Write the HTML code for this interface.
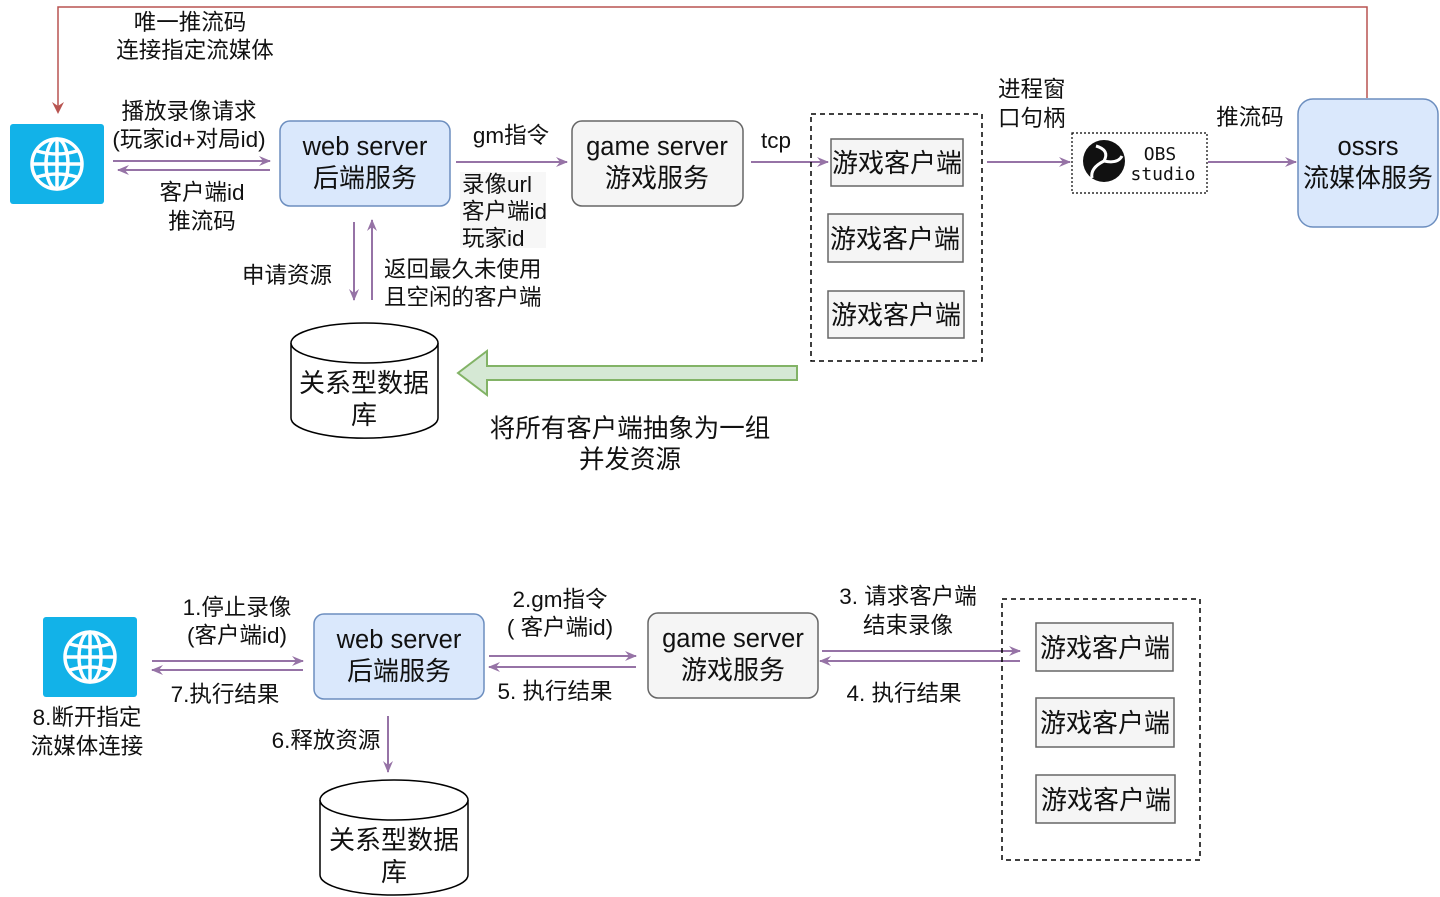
<!DOCTYPE html>
<html><head><meta charset="utf-8"><style>
html,body{margin:0;padding:0;background:#fff;}
svg{display:block;}
text{font-family:"Liberation Sans","Noto Sans CJK SC",sans-serif;fill:#111;}
text.mono{font-family:"DejaVu Sans Mono","Liberation Mono",monospace;}
</style></head><body>
<svg width="1440" height="897" viewBox="0 0 1440 897" xmlns="http://www.w3.org/2000/svg">
<defs>
<marker id="pa" markerWidth="12" markerHeight="10" refX="11" refY="5" orient="auto" markerUnits="userSpaceOnUse">
<path d="M0,0 L12,5 L0,10 L4,5 Z" fill="#9673a6"/></marker>
<g id="globe">
<rect x="0" y="0" width="94" height="80" rx="3" fill="#12b2e8"/>
<g fill="none" stroke="#fff" stroke-width="3.5">
<circle cx="47" cy="40" r="25"/>
<ellipse cx="47" cy="40" rx="11" ry="25"/>
<line x1="47" y1="15" x2="47" y2="65"/>
<line x1="22" y1="40" x2="72" y2="40"/>
<path d="M27,27 Q47,33 67,27"/>
<path d="M27,53 Q47,47 67,53"/>
</g>
</g>
</defs>

<polyline points="1367,98 1367,7 58,7 58,112" fill="none" stroke="#b85450" stroke-width="1.5"/>
<path d="M52,102 L58,114 L64,102 L58,106 Z" fill="#b85450"/>
<text x="190" y="30" font-size="22.5" text-anchor="middle">唯一推流码</text>
<text x="195" y="58" font-size="22.5" text-anchor="middle">连接指定流媒体</text>

<use href="#globe" x="10" y="124"/>
<line x1="113" y1="161" x2="270" y2="161" stroke="#9673a6" stroke-width="2" marker-end="url(#pa)"/>
<line x1="270" y1="170" x2="118" y2="170" stroke="#9673a6" stroke-width="2" marker-end="url(#pa)"/>
<text x="189" y="119" font-size="22.5" text-anchor="middle">播放录像请求</text>
<text x="189" y="147" font-size="22.5" text-anchor="middle">(玩家id+对局id)</text>
<text x="202" y="200" font-size="22.5" text-anchor="middle">客户端id</text>
<text x="202" y="229" font-size="22.5" text-anchor="middle">推流码</text>

<rect x="280" y="121" width="170" height="85" rx="10" fill="#dae8fc" stroke="#6c8ebf" stroke-width="1.5"/>
<text x="365" y="155" font-size="25.5" text-anchor="middle">web server</text>
<text x="365" y="187" font-size="26" text-anchor="middle">后端服务</text>

<line x1="456" y1="162" x2="567" y2="162" stroke="#9673a6" stroke-width="2" marker-end="url(#pa)"/>
<text x="511" y="143" font-size="22.5" text-anchor="middle">gm指令</text>
<rect x="460" y="172" width="86" height="76" fill="#f7f7f7"/>
<text x="462" y="192" font-size="22.5">录像url</text>
<text x="462" y="219" font-size="22.5">客户端id</text>
<text x="462" y="246" font-size="22.5">玩家id</text>

<rect x="572" y="121" width="171" height="85" rx="10" fill="#f5f5f5" stroke="#666" stroke-width="1.5"/>
<text x="657" y="155" font-size="25.5" text-anchor="middle" fill="#333">game server</text>
<text x="657" y="187" font-size="26" text-anchor="middle" fill="#333">游戏服务</text>

<line x1="751" y1="162" x2="828" y2="162" stroke="#9673a6" stroke-width="2" marker-end="url(#pa)"/>
<text x="776" y="148" font-size="22.5" text-anchor="middle">tcp</text>

<rect x="811" y="114" width="171" height="247" fill="none" stroke="#000" stroke-width="1.5" stroke-dasharray="5,4"/>
<rect x="831" y="139" width="132" height="47" fill="#f5f5f5" stroke="#666" stroke-width="1.5"/>
<text x="897" y="172" font-size="26" text-anchor="middle" fill="#333">游戏客户端</text>
<rect x="828" y="214" width="135" height="48" fill="#f5f5f5" stroke="#666" stroke-width="1.5"/>
<text x="895" y="248" font-size="26" text-anchor="middle" fill="#333">游戏客户端</text>
<rect x="828" y="291" width="136" height="47" fill="#f5f5f5" stroke="#666" stroke-width="1.5"/>
<text x="896" y="324" font-size="26" text-anchor="middle" fill="#333">游戏客户端</text>

<line x1="987" y1="162" x2="1070" y2="162" stroke="#9673a6" stroke-width="2" marker-end="url(#pa)"/>
<text x="998" y="97" font-size="22.5">进程窗</text>
<text x="998" y="126" font-size="22.5">口句柄</text>

<rect x="1072" y="133" width="135" height="60" fill="#fff" stroke="#000" stroke-width="1.2" stroke-dasharray="2,2"/>
<circle cx="1104" cy="161" r="21" fill="#111"/>
<path d="M1096,146 Q1110,150 1104,161 M1104,161 Q1090,168 1092,178 M1104,161 Q1118,164 1122,156" stroke="#fff" stroke-width="3" fill="none"/>
<text class="mono" x="1160" y="160" font-size="18" text-anchor="middle" fill="#111">OBS</text>
<text class="mono" x="1163" y="180" font-size="18" text-anchor="middle" fill="#111">studio</text>

<line x1="1208" y1="162" x2="1296" y2="162" stroke="#9673a6" stroke-width="2" marker-end="url(#pa)"/>
<text x="1250" y="125" font-size="22.5" text-anchor="middle">推流码</text>

<rect x="1298" y="99" width="140" height="128" rx="15" fill="#dae8fc" stroke="#6c8ebf" stroke-width="1.5"/>
<text x="1368" y="155" font-size="25.5" text-anchor="middle">ossrs</text>
<text x="1368" y="187" font-size="26" text-anchor="middle">流媒体服务</text>

<line x1="354" y1="222" x2="354" y2="300" stroke="#9673a6" stroke-width="2" marker-end="url(#pa)"/>
<line x1="372" y1="300" x2="372" y2="220" stroke="#9673a6" stroke-width="2" marker-end="url(#pa)"/>
<text x="287" y="283" font-size="22.5" text-anchor="middle">申请资源</text>
<text x="384" y="277" font-size="22.5">返回最久未使用</text>
<text x="384" y="305" font-size="22.5">且空闲的客户端</text>

<path d="M291,343 L291,418 A73,20 0 0 0 438,418 L438,343" fill="#fff" stroke="#000" stroke-width="1.5"/>
<ellipse cx="364.5" cy="343" rx="73.5" ry="20" fill="#fff" stroke="#000" stroke-width="1.5"/>
<text x="364" y="392" font-size="26" text-anchor="middle">关系型数据</text>
<text x="364" y="424" font-size="26" text-anchor="middle">库</text>

<path d="M797,366 L487,366 L487,351 L458,373 L487,395 L487,380 L797,380 Z" fill="#d5e8d4" stroke="#82b366" stroke-width="2"/>
<text x="630" y="437" font-size="25.5" text-anchor="middle">将所有客户端抽象为一组</text>
<text x="630" y="468" font-size="25.5" text-anchor="middle">并发资源</text>

<use href="#globe" x="43" y="617"/>
<text x="87" y="725" font-size="22.5" text-anchor="middle">8.断开指定</text>
<text x="87" y="754" font-size="22.5" text-anchor="middle">流媒体连接</text>
<line x1="152" y1="661" x2="303" y2="661" stroke="#9673a6" stroke-width="2" marker-end="url(#pa)"/>
<line x1="303" y1="670" x2="152" y2="670" stroke="#9673a6" stroke-width="2" marker-end="url(#pa)"/>
<text x="237" y="615" font-size="22.5" text-anchor="middle">1.停止录像</text>
<text x="237" y="643" font-size="22.5" text-anchor="middle">(客户端id)</text>
<text x="225" y="702" font-size="22.5" text-anchor="middle">7.执行结果</text>

<rect x="314" y="614" width="170" height="85" rx="10" fill="#dae8fc" stroke="#6c8ebf" stroke-width="1.5"/>
<text x="399" y="648" font-size="25.5" text-anchor="middle">web server</text>
<text x="399" y="680" font-size="26" text-anchor="middle">后端服务</text>

<line x1="489" y1="656" x2="636" y2="656" stroke="#9673a6" stroke-width="2" marker-end="url(#pa)"/>
<line x1="636" y1="667" x2="489" y2="667" stroke="#9673a6" stroke-width="2" marker-end="url(#pa)"/>
<text x="560" y="607" font-size="22.5" text-anchor="middle">2.gm指令</text>
<text x="560" y="635" font-size="22.5" text-anchor="middle">( 客户端id)</text>
<text x="555" y="699" font-size="22.5" text-anchor="middle">5. 执行结果</text>

<rect x="648" y="613" width="170" height="85" rx="10" fill="#f5f5f5" stroke="#666" stroke-width="1.5"/>
<text x="733" y="647" font-size="25.5" text-anchor="middle" fill="#333">game server</text>
<text x="733" y="679" font-size="26" text-anchor="middle" fill="#333">游戏服务</text>

<line x1="822" y1="651" x2="1020" y2="651" stroke="#9673a6" stroke-width="2" marker-end="url(#pa)"/>
<line x1="1020" y1="661" x2="820" y2="661" stroke="#9673a6" stroke-width="2" marker-end="url(#pa)"/>
<text x="908" y="604" font-size="22.5" text-anchor="middle">3. 请求客户端</text>
<text x="908" y="633" font-size="22.5" text-anchor="middle">结束录像</text>
<text x="904" y="701" font-size="22.5" text-anchor="middle">4. 执行结果</text>

<rect x="1002" y="599" width="198" height="261" fill="none" stroke="#000" stroke-width="1.5" stroke-dasharray="5,4"/>
<rect x="1036" y="623" width="137" height="48" fill="#f5f5f5" stroke="#666" stroke-width="1.5"/>
<text x="1105" y="657" font-size="26" text-anchor="middle" fill="#333">游戏客户端</text>
<rect x="1036" y="698" width="138" height="49" fill="#f5f5f5" stroke="#666" stroke-width="1.5"/>
<text x="1105" y="732" font-size="26" text-anchor="middle" fill="#333">游戏客户端</text>
<rect x="1036" y="775" width="139" height="48" fill="#f5f5f5" stroke="#666" stroke-width="1.5"/>
<text x="1106" y="809" font-size="26" text-anchor="middle" fill="#333">游戏客户端</text>

<line x1="388" y1="716" x2="388" y2="772" stroke="#9673a6" stroke-width="2" marker-end="url(#pa)"/>
<text x="326" y="748" font-size="22.5" text-anchor="middle">6.释放资源</text>

<path d="M320,800 L320,875 A74,20 0 0 0 468,875 L468,800" fill="#fff" stroke="#000" stroke-width="1.5"/>
<ellipse cx="394" cy="800" rx="74" ry="20" fill="#fff" stroke="#000" stroke-width="1.5"/>
<text x="394" y="849" font-size="26" text-anchor="middle">关系型数据</text>
<text x="394" y="881" font-size="26" text-anchor="middle">库</text>
</svg>
</body></html>
